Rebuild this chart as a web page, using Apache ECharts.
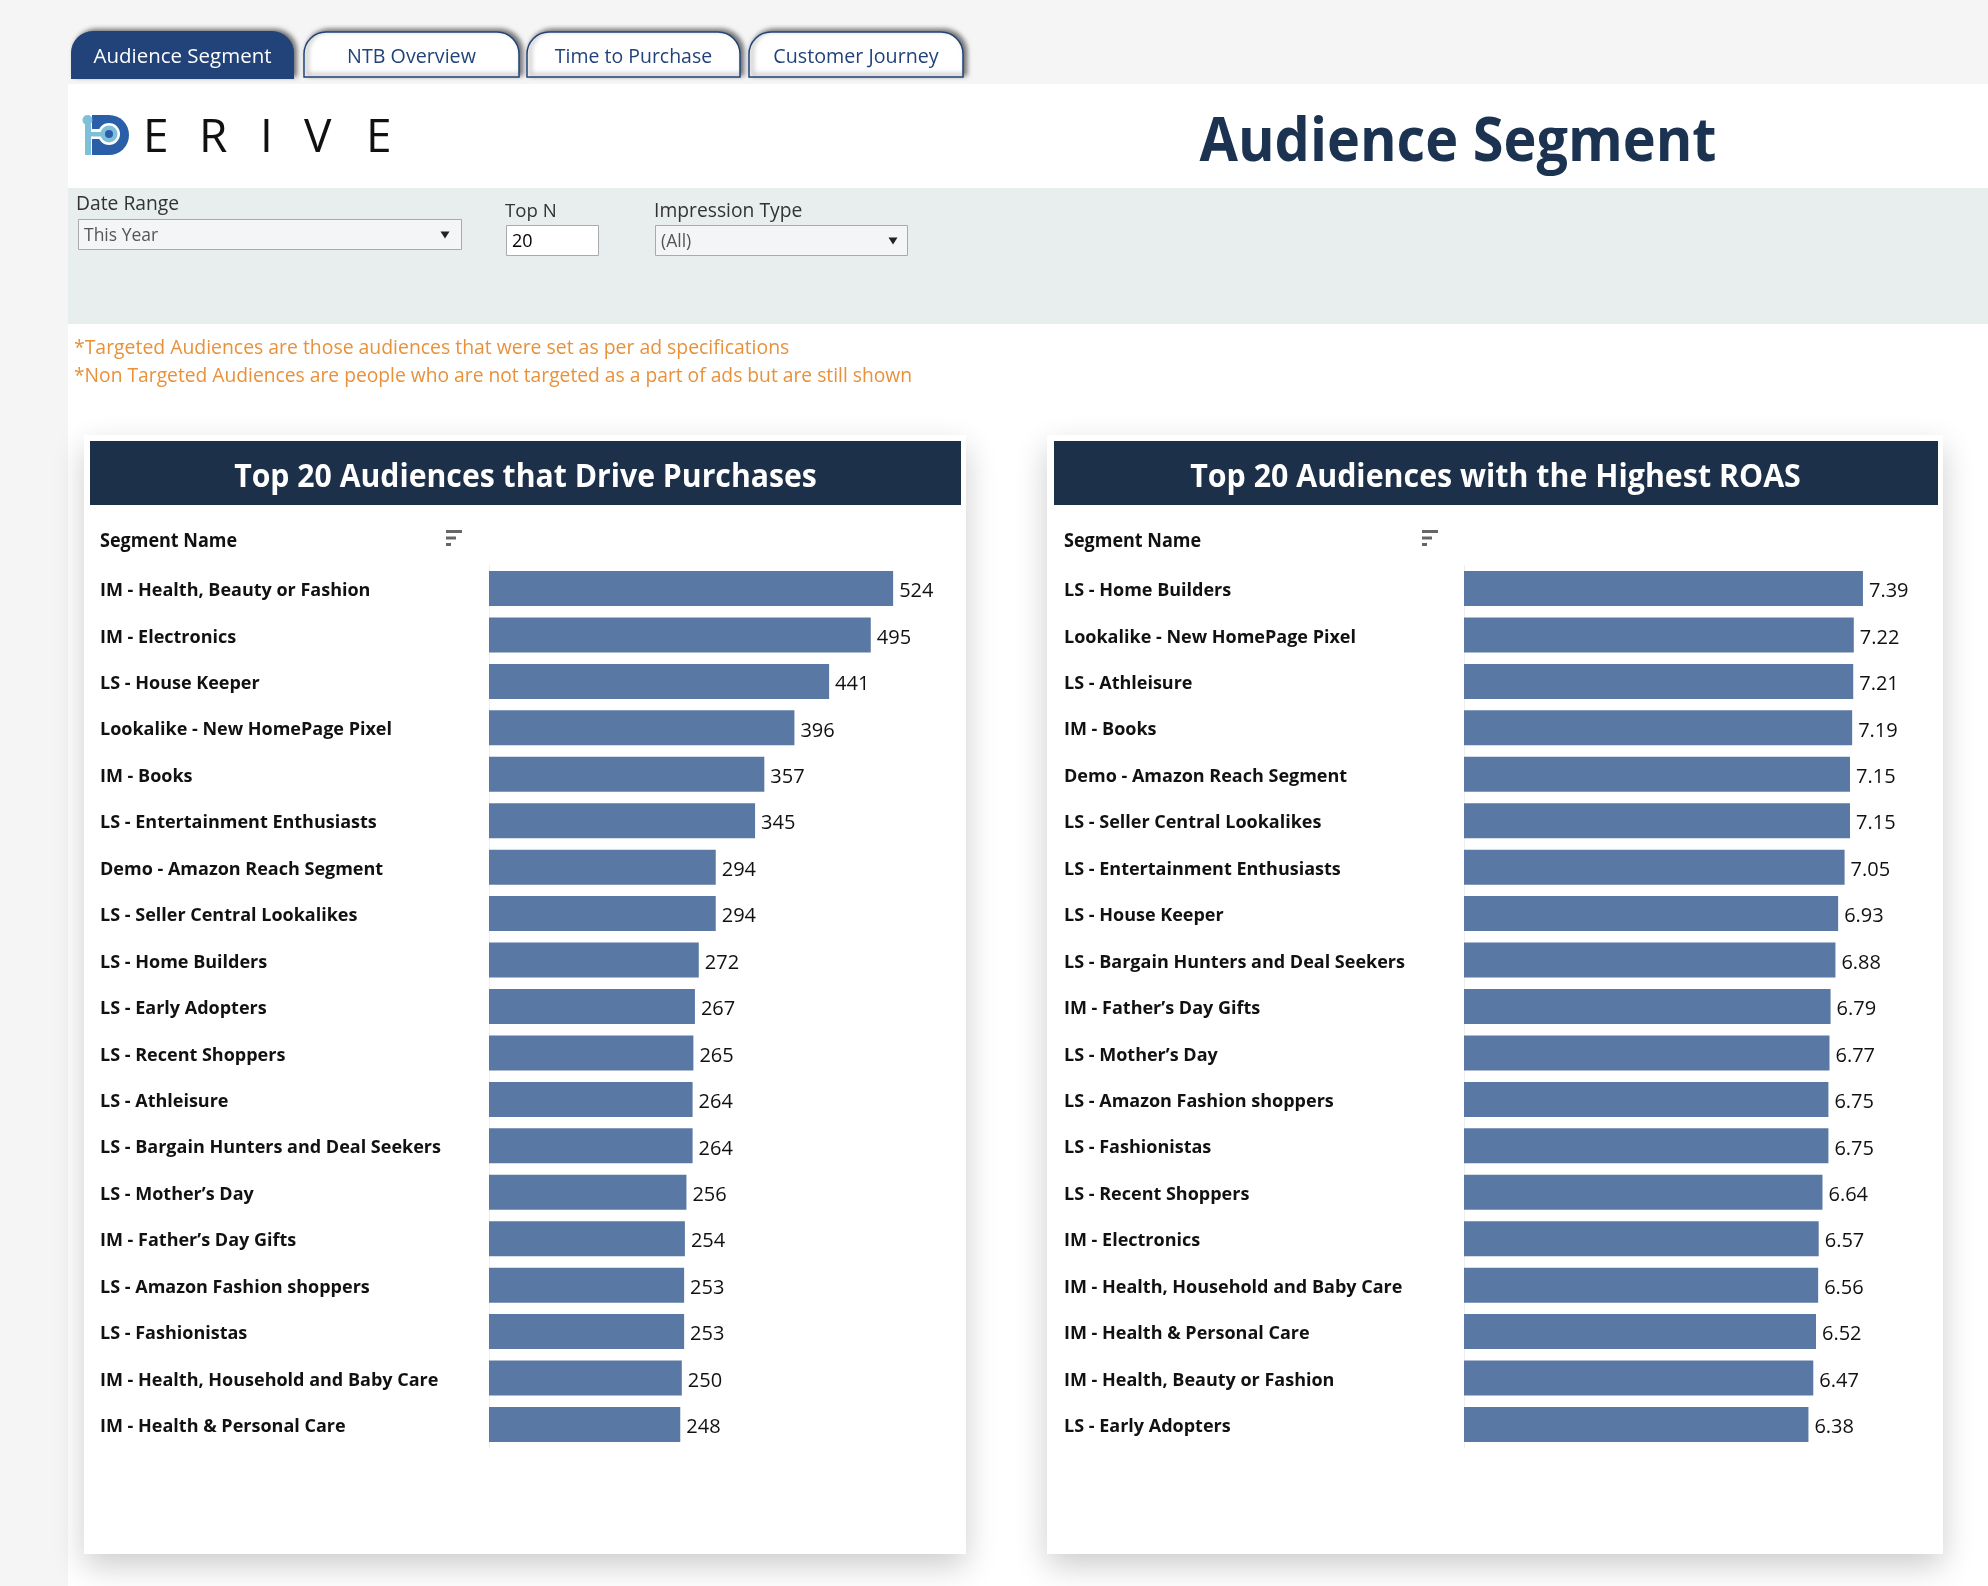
<!DOCTYPE html>
<html><head><meta charset="utf-8">
<style>html,body{margin:0;padding:0;background:#f5f5f5}#c{width:1988px;height:1586px}</style>
<script src="https://cdn.jsdelivr.net/npm/echarts@6/dist/echarts.min.js"></script>
</head><body><div id="c"></div>
<script>
const purchaseCategories = ["IM - Health, Beauty or Fashion","IM - Electronics","LS - House Keeper","Lookalike - New HomePage Pixel","IM - Books","LS - Entertainment Enthusiasts","Demo - Amazon Reach Segment","LS - Seller Central Lookalikes","LS - Home Builders","LS - Early Adopters","LS - Recent Shoppers","LS - Athleisure","LS - Bargain Hunters and Deal Seekers","LS - Mother’s Day","IM - Father’s Day Gifts","LS - Amazon Fashion shoppers","LS - Fashionistas","IM - Health, Household and Baby Care","IM - Health & Personal Care"];
const purchaseValues = [524,495,441,396,357,345,294,294,272,267,265,264,264,256,254,253,253,250,248];
const roasCategories = ["LS - Home Builders","Lookalike - New HomePage Pixel","LS - Athleisure","IM - Books","Demo - Amazon Reach Segment","LS - Seller Central Lookalikes","LS - Entertainment Enthusiasts","LS - House Keeper","LS - Bargain Hunters and Deal Seekers","IM - Father’s Day Gifts","LS - Mother’s Day","LS - Amazon Fashion shoppers","LS - Fashionistas","LS - Recent Shoppers","IM - Electronics","IM - Health, Household and Baby Care","IM - Health & Personal Care","IM - Health, Beauty or Fashion","LS - Early Adopters"];
const roasValues = [7.39,7.22,7.21,7.19,7.15,7.15,7.05,6.93,6.88,6.79,6.77,6.75,6.75,6.64,6.57,6.56,6.52,6.47,6.38];
const tabLabels = ["Audience Segment","NTB Overview","Time to Purchase","Customer Journey"];

const FONT = '"Open Sans"';
const NAVY = '#1c3049', TAB = '#21437a', BAR = '#5a78a4', ORANGE = '#e8913a';
const rect = (x,y,w,h,fill,extra={}) => ({type:'rect',shape:{x,y,width:w,height:h,r:extra.r||0},style:Object.assign({fill},extra.style||{}),z:extra.z??0});
const txt = (x,y,text,size,fill,weight='normal',align='left',sx=1) => ({type:'text',x,y,scaleX:sx,z:3,style:{text,fill,font:`${weight} ${size}px ${FONT}`,textAlign:align,textVerticalAlign:'middle'}});
const tri = (cx,cy) => ({type:'polygon',z:3,shape:{points:[[cx-4.5,cy-3.5],[cx+4.5,cy-3.5],[cx,cy+3.5]]},style:{fill:'#222'}});
const sortIcon = (x,y) => [rect(x,y,16,3,'#666',{z:3}),rect(x,y+6.5,10,3,'#666',{z:3}),rect(x,y+13,5,3,'#666',{z:3})];

const tabBoxes = [[71,31,223,48],[304,32,215,45],[527,32,213,45],[749,32,214,45]];
const tabScale = [1.01,0.97,0.96,0.97];
const tabG = tabBoxes.map((b,i)=>rect(b[0],b[1],b[2],b[3],i===0?TAB:'#fff',{r:[22,22,0,0],style:{stroke:TAB,lineWidth:i===0?0:1.5,shadowBlur:5,shadowOffsetX:3,shadowOffsetY:-2,shadowColor:'rgba(0,0,0,0.55)'},z:2}));
const tabT = tabBoxes.map((b,i)=>txt(b[0]+b[2]/2,57,tabLabels[i],20.3,i===0?'#fff':TAB,'normal','center',tabScale[i]));

const graphics = [
  rect(68,84,1920,1502,'#fff'),
  rect(68,188,1920,136,'#e8eeee'),
  ...tabG, ...tabT,
  // logo
  rect(92,115,37,40,'#2a5ea8',{r:[0,20,20,0],z:2}),
  {type:'circle',z:2,shape:{cx:109,cy:134,r:11},style:{fill:'#fff'}},
  rect(91,129,18,10,'#fff',{z:2}),
  rect(85,119,6,36,'#7fc0d8',{z:3}),
  {type:'circle',z:3,shape:{cx:87.5,cy:120,r:5},style:{fill:'#7fc0d8'}},
  rect(88,132,20,4.5,'#7fc0d8',{z:3}),
  {type:'circle',z:3,shape:{cx:109,cy:134,r:8.5},style:{fill:'#7fc0d8'}},
  {type:'circle',z:3,shape:{cx:109,cy:134,r:4},style:{fill:'#2a5ea8'}},
  txt(143,139,'E',46,'#111'),txt(199,139,'R',46,'#111'),txt(260,139,'I',46,'#111'),txt(304,139,'V',46,'#111'),txt(366,139,'E',46,'#111'),
  // page and panel titles
  txt(1458,144,'Audience Segment',60,'#1b3250','700','center',0.93),
  txt(525.5,477.5,'Top 20 Audiences that Drive Purchases',33,'#fff','700','center',0.915),
  txt(1495.5,477.5,'Top 20 Audiences with the Highest ROAS',33,'#fff','700','center',0.92),
  // filters
  txt(76,205,'Date Range',19.3,'#333'),
  rect(78.5,219.5,383,30,'#f3f5f6',{style:{stroke:'#aaa',lineWidth:1},z:2}),
  txt(84,236,'This Year',17.5,'#555'), tri(445,235),
  txt(505,212,'Top N',18.6,'#333'),
  rect(506.5,225.5,92,30,'#fff',{style:{stroke:'#aaa',lineWidth:1},z:2}),
  txt(512,242,'20',18,'#000'),
  txt(654,212,'Impression Type',19.3,'#333'),
  rect(655.5,225.5,252,30,'#f3f5f6',{style:{stroke:'#aaa',lineWidth:1},z:2}),
  txt(661,242,'(All)',17.5,'#555'), tri(893,241),
  txt(74,348,'*Targeted Audiences are those audiences that were set as per ad specifications',19.4,ORANGE,'500'),
  txt(74,377,'*Non Targeted Audiences are people who are not targeted as a part of ads but are still shown',19.25,ORANGE,'500'),
  // cards
  rect(84,435,882,1119,'#fff',{style:{shadowBlur:30,shadowOffsetY:12,shadowColor:'rgba(0,0,0,0.2)'},z:1}),
  rect(1047,435,896,1119,'#fff',{style:{shadowBlur:30,shadowOffsetY:12,shadowColor:'rgba(0,0,0,0.2)'},z:1}),
  rect(90,441,871,64,NAVY,{z:2}),
  rect(1054,441,884,64,NAVY,{z:2}),
  txt(100,541,'Segment Name',20,'#111','700','left',0.9),
  txt(1064,541,'Segment Name',20,'#111','700','left',0.9),
  ...sortIcon(446,530), ...sortIcon(1422,530),
];

const yAxis = (gridIndex,data,margin) => ({type:'category',gridIndex,data,inverse:true,z:5,
  axisTick:{show:false},axisLine:{show:true,lineStyle:{color:'#eeeeee',width:1}},splitLine:{show:false},
  axisLabel:{align:'left',verticalAlign:'top',lineHeight:5,margin,color:'#111',fontFamily:FONT,fontWeight:700,fontSize:18,interval:0}});
const xAxis = (gridIndex,max) => ({type:'value',gridIndex,min:0,max,show:false});
const series = (i,data,fmt) => ({type:'bar',xAxisIndex:i,yAxisIndex:i,data,barWidth:35,z:6,
  itemStyle:{color:BAR},
  label:{show:true,position:'right',distance:6,offset:[0,3],color:'#111',fontFamily:FONT,fontSize:20,formatter:fmt},silent:true});

const chart = echarts.init(document.getElementById('c'));
chart.setOption({
  animation:false,backgroundColor:'#f5f5f5',
  graphic:{elements:graphics},
  grid:[{left:489,top:565.3,width:472,height:882.4},{left:1464,top:565.3,width:474,height:882.4}],
  xAxis:[xAxis(0,612),xAxis(1,8.78)],
  yAxis:[yAxis(0,purchaseCategories,389),yAxis(1,roasCategories,400)],
  series:[series(0,purchaseValues,p=>p.value),series(1,roasValues,p=>p.value.toFixed(2))],
});
</script></body></html>
